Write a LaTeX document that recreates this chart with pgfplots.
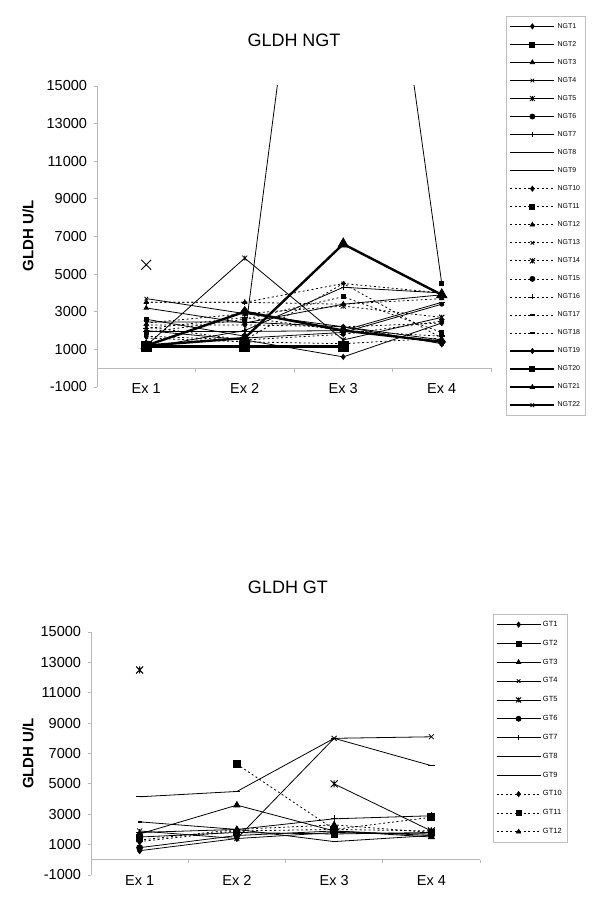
\documentclass[border=0pt]{standalone}
\usepackage{pgfplots}
\pgfplotsset{compat=1.18}
\usepackage{pgfplotstable}
\usepackage{fontspec}
\setmainfont{Liberation Sans}

\pgfdeclareplotmark{xbar}{%
  \pgfpathmoveto{\pgfqpoint{-\pgfplotmarksize}{-\pgfplotmarksize}}%
  \pgfpathlineto{\pgfqpoint{\pgfplotmarksize}{\pgfplotmarksize}}%
  \pgfpathmoveto{\pgfqpoint{-\pgfplotmarksize}{\pgfplotmarksize}}%
  \pgfpathlineto{\pgfqpoint{\pgfplotmarksize}{-\pgfplotmarksize}}%
  \pgfpathmoveto{\pgfqpoint{0pt}{-\pgfplotmarksize}}%
  \pgfpathlineto{\pgfqpoint{0pt}{\pgfplotmarksize}}%
  \pgfusepathqstroke}

\pgfplotstableread{
x NGT1 NGT2 NGT3 NGT4 NGT5 NGT6 NGT7 NGT8 NGT9 NGT10 NGT11 NGT12 NGT13 NGT14 NGT15 NGT16 NGT17 NGT18 NGT19 NGT20 NGT21 NGT22
1 2000 2600 3200 3700 1200 1200 1100 2450 1950 2300 1900 3500 2200 2400 1700 3500 1600 2100 1200 1150 1200 5500
2 1500 1700 2400 2900 5850 1600 2000 2450 1950 2300 2600 3500 1500 2900 1500 3500 1400 2700 3000 1150 1600 nan
3 600 42000 3400 2200 1500 1900 4300 2200 2000 2200 3800 3400 4500 3300 1800 4500 1300 2000 2000 1150 6600 nan
4 2400 4500 3900 1300 2700 3400 4000 1500 3500 2400 1900 3700 1600 2700 2500 4000 1600 1700 1400 nan 3900 nan
}\ngt

\pgfplotstableread{
x GT1 GT2 GT3 GT4 GT5 GT6 GT7 GT8 GT9 GT10 GT11 GT12
1 600 1500 1700 1900 12500 800 1800 2500 4150 1200 nan 1300
2 1400 1800 3600 1400 nan 1600 2000 2000 4500 1900 6300 2000
3 1800 1700 1900 8000 5000 1900 2700 1200 8000 2000 2000 2300
4 1700 1800 1500 8100 1900 1600 2900 1600 6200 1900 2800 1800
}\gt

\tikzset{
  sl/.style={black,line width=0.8pt},
  dl/.style={black,line width=0.8pt,dash pattern=on 2pt off 2.5pt},
  tl/.style={black,line width=2.4pt},
}

\pgfplotsset{
  gldh/.style={
    scale only axis,
    xmin=0.5,xmax=4.5, ymin=-1000,ymax=15000,
    axis x line=middle, axis y line=left,
    axis line style={-, gray!55, line width=0.8pt},
    xtick={0.5,1.5,2.5,3.5,4.5}, xticklabels={,,,,},
    extra x ticks={1,2,3,4}, extra x tick labels={Ex 1,Ex 2,Ex 3,Ex 4},
    extra x tick style={major tick length=0pt, xticklabel style={yshift=-12pt}},
    ytick={-1000,1000,...,15000},
    scaled y ticks=false,
    tick style={gray!55, line width=0.8pt},
    tick align=outside, major tick length=3.5pt,
    /pgf/number format/assume math mode=true,
    /pgf/number format/1000 sep={},
    ticklabel style={font=\fontsize{14.5}{16}\selectfont},
    yticklabel style={xshift=-3pt},
    unbounded coords=jump,
    legend cell align=left,
    legend image code/.code={\draw[mark repeat=2,mark phase=2,##1] plot coordinates {(0pt,0pt) (22pt,0pt) (44pt,0pt)};},
    every legend image post/.style={mark size=2.5pt},
  },
}

\begin{document}
\begin{tikzpicture}
\useasboundingbox (0,0) rectangle (600pt,902pt);

\node[font=\fontsize{18}{20}\selectfont] at (294pt,862pt) {GLDH NGT};
\node[rotate=90,font=\bfseries\fontsize{15}{17}\selectfont] at (28pt,666pt) {GLDH U/L};

\begin{axis}[gldh, at={(97pt,515pt)}, anchor=south west, width=394pt, height=301pt,
  legend style={at={(1.038,1.2326)}, anchor=north west, draw=gray!50, fill=white,
    font=\fontsize{7}{8}\selectfont, row sep=7.65pt, inner xsep=3pt, inner ysep=5pt}]
\addplot[sl, mark=diamond*, mark size=2.5pt, mark options={solid,fill=black}] table[x=x,y=NGT1]{\ngt}; \addlegendentry{NGT1}
\addplot[sl, mark=square*, mark size=2pt, mark options={solid,fill=black}] table[x=x,y=NGT2]{\ngt}; \addlegendentry{NGT2}
\addplot[sl, mark=triangle*, mark size=2.5pt, mark options={solid,fill=black}] table[x=x,y=NGT3]{\ngt}; \addlegendentry{NGT3}
\addplot[sl, mark=x, mark size=2.5pt, mark options={solid}] table[x=x,y=NGT4]{\ngt}; \addlegendentry{NGT4}
\addplot[sl, mark=xbar, mark size=2.5pt, mark options={solid}] table[x=x,y=NGT5]{\ngt}; \addlegendentry{NGT5}
\addplot[sl, mark=*, mark size=2pt, mark options={solid,fill=black}] table[x=x,y=NGT6]{\ngt}; \addlegendentry{NGT6}
\addplot[sl, mark=+, mark size=2.5pt, mark options={solid}] table[x=x,y=NGT7]{\ngt}; \addlegendentry{NGT7}
\addplot[sl, mark=-, mark size=1.5pt, mark options={solid,line width=1.4pt}] table[x=x,y=NGT8]{\ngt}; \addlegendentry{NGT8}
\addplot[sl, mark=-, mark size=3pt, mark options={solid,line width=1.4pt}] table[x=x,y=NGT9]{\ngt}; \addlegendentry{NGT9}
\addplot[dl, mark=diamond*, mark size=2.5pt, mark options={solid,fill=black}] table[x=x,y=NGT10]{\ngt}; \addlegendentry{NGT10}
\addplot[dl, mark=square*, mark size=2pt, mark options={solid,fill=black}] table[x=x,y=NGT11]{\ngt}; \addlegendentry{NGT11}
\addplot[dl, mark=triangle*, mark size=2.5pt, mark options={solid,fill=black}] table[x=x,y=NGT12]{\ngt}; \addlegendentry{NGT12}
\addplot[dl, mark=x, mark size=2.5pt, mark options={solid}] table[x=x,y=NGT13]{\ngt}; \addlegendentry{NGT13}
\addplot[dl, mark=xbar, mark size=2.5pt, mark options={solid}] table[x=x,y=NGT14]{\ngt}; \addlegendentry{NGT14}
\addplot[dl, mark=*, mark size=2pt, mark options={solid,fill=black}] table[x=x,y=NGT15]{\ngt}; \addlegendentry{NGT15}
\addplot[dl, mark=+, mark size=2.5pt, mark options={solid}] table[x=x,y=NGT16]{\ngt}; \addlegendentry{NGT16}
\addplot[dl, mark=-, mark size=1.5pt, mark options={solid,line width=1.4pt}] table[x=x,y=NGT17]{\ngt}; \addlegendentry{NGT17}
\addplot[dl, mark=-, mark size=3pt, mark options={solid,line width=1.4pt}] table[x=x,y=NGT18]{\ngt}; \addlegendentry{NGT18}
\addplot[tl, mark=diamond*, mark size=5pt, mark options={solid,fill=black,line width=0.8pt}] table[x=x,y=NGT19]{\ngt}; \addlegendentry{NGT19}
\addplot[tl, mark=square*, mark size=5pt, mark options={solid,fill=black,line width=0.8pt}] table[x=x,y=NGT20]{\ngt}; \addlegendentry{NGT20}
\addplot[tl, mark=triangle*, mark size=6pt, mark options={solid,fill=black,line width=0.8pt}] table[x=x,y=NGT21]{\ngt}; \addlegendentry{NGT21}
\addplot[tl, mark=x, mark size=7pt, mark options={solid,line width=1pt}] table[x=x,y=NGT22]{\ngt}; \addlegendentry{NGT22}
\end{axis}

\node[font=\fontsize{18}{20}\selectfont] at (288pt,315pt) {GLDH GT};
\node[rotate=90,font=\bfseries\fontsize{15}{17}\selectfont] at (28pt,148.5pt) {GLDH U/L};

\begin{axis}[gldh, at={(91pt,27pt)}, anchor=south west, width=389pt, height=243pt,
  legend style={at={(1.0334,1.074)}, anchor=north west, draw=gray!50, fill=white,
    font=\fontsize{7.5}{8.5}\selectfont, row sep=8.1pt, inner xsep=3pt, inner ysep=5pt}]
\addplot[sl, mark=diamond*, mark size=3pt, mark options={solid,fill=black}] table[x=x,y=GT1]{\gt}; \addlegendentry{GT1}
\addplot[sl, mark=square*, mark size=3pt, mark options={solid,fill=black}] table[x=x,y=GT2]{\gt}; \addlegendentry{GT2}
\addplot[sl, mark=triangle*, mark size=3.5pt, mark options={solid,fill=black}] table[x=x,y=GT3]{\gt}; \addlegendentry{GT3}
\addplot[sl, mark=x, mark size=3.5pt, mark options={solid}] table[x=x,y=GT4]{\gt}; \addlegendentry{GT4}
\addplot[sl, mark=xbar, mark size=3.5pt, mark options={solid,line width=1pt}] table[x=x,y=GT5]{\gt}; \addlegendentry{GT5}
\addplot[sl, mark=*, mark size=3pt, mark options={solid,fill=black}] table[x=x,y=GT6]{\gt}; \addlegendentry{GT6}
\addplot[sl, mark=+, mark size=3.5pt, mark options={solid}] table[x=x,y=GT7]{\gt}; \addlegendentry{GT7}
\addplot[sl, mark=-, mark size=2pt, mark options={solid,line width=1.4pt}] table[x=x,y=GT8]{\gt}; \addlegendentry{GT8}
\addplot[sl, mark=-, mark size=3.5pt, mark options={solid,line width=1.4pt}] table[x=x,y=GT9]{\gt}; \addlegendentry{GT9}
\addplot[dl, mark=diamond*, mark size=3pt, mark options={solid,fill=black}] table[x=x,y=GT10]{\gt}; \addlegendentry{GT10}
\addplot[dl, mark=square*, mark size=3.5pt, mark options={solid,fill=black}] table[x=x,y=GT11]{\gt}; \addlegendentry{GT11}
\addplot[dl, mark=triangle*, mark size=3.5pt, mark options={solid,fill=black}] table[x=x,y=GT12]{\gt}; \addlegendentry{GT12}
\end{axis}
\end{tikzpicture}
\end{document}
